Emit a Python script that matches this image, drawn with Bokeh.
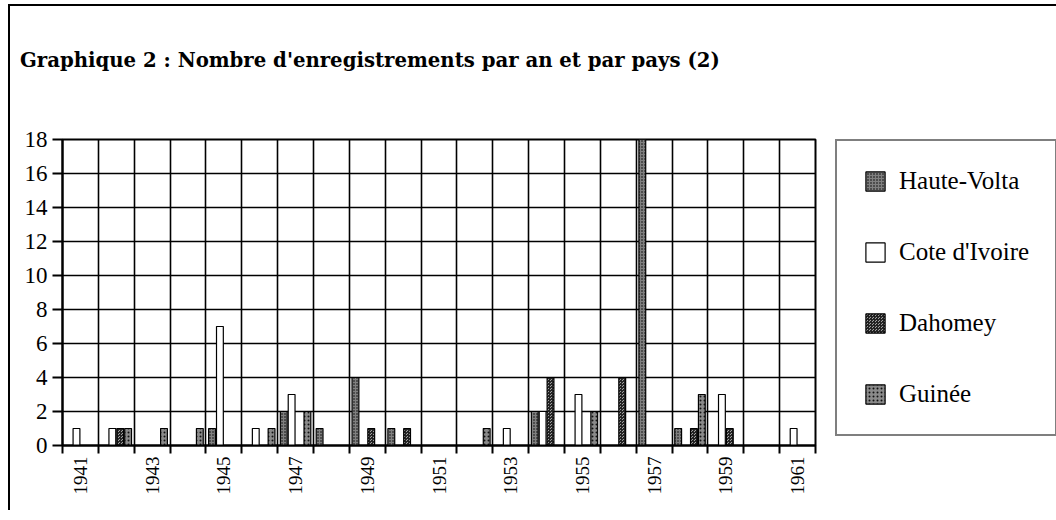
import math
from bokeh.plotting import figure
from bokeh.layouts import column
from bokeh.models import Range1d, FixedTicker, Legend, LegendItem, Div
from bokeh.embed import file_html
from bokeh.resources import INLINE

# ---- data ----
years = list(range(1941, 1962))
haute_volta  = [0, 0, 0, 0, 1, 0, 2, 1, 4, 1, 0, 0, 0, 2, 0, 0, 18, 1, 0, 0, 0]
cote_divoire = [1, 1, 0, 0, 7, 1, 3, 0, 0, 0, 0, 0, 1, 2, 3, 0, 0, 0, 3, 0, 1]
dahomey      = [0, 1, 0, 0, 0, 0, 0, 0, 1, 1, 0, 0, 0, 4, 0, 4, 0, 1, 1, 0, 0]
guinee       = [0, 1, 1, 1, 0, 1, 2, 0, 0, 0, 0, 1, 0, 0, 2, 0, 0, 3, 0, 0, 0]
series_names = ["Haute-Volta", "Cote d'Ivoire", "Dahomey", "Guinée"]
y_ticks = list(range(0, 19, 2))
label_years = years[::2]
title_text = "Graphique 2 : Nombre d'enregistrements par an et par pays (2)"

boundaries = [y - 0.5 for y in years] + [years[-1] + 0.5]

title_div = Div(width=1040, height=100, margin=0,
                text=('<div style="position:relative; top:41px; left:10px; white-space:nowrap; '
                      'font-family:\'DejaVu Serif\'; font-weight:bold; font-size:19.7px; color:black;">'
                      + title_text + '</div>'))

p = figure(frame_width=753, frame_height=306, output_backend="svg", toolbar_location=None,
           x_range=Range1d(years[0] - 0.5, years[-1] + 0.5), y_range=Range1d(0, 18),
           min_border_left=52, min_border_right=235, min_border_top=33,
           min_border_bottom=65, margin=0)
p.background_fill_color = "white"
p.border_fill_color = "white"
p.outline_line_color = "black"
p.outline_line_width = 2

# grids
p.xgrid.ticker = FixedTicker(ticks=boundaries)
p.ygrid.ticker = FixedTicker(ticks=y_ticks)
for g in (p.xgrid, p.ygrid):
    g.grid_line_color = "black"
    g.grid_line_width = 1.6
    g.grid_line_alpha = 1.0

# y axis
ya = p.yaxis[0]
ya.ticker = FixedTicker(ticks=y_ticks)
ya.axis_line_width = 2
ya.major_tick_out = 10
ya.major_tick_in = 0
ya.major_tick_line_width = 2
ya.minor_tick_line_color = None
ya.major_label_standoff = 5
ya.major_label_text_font = "Liberation Serif"
ya.major_label_text_font_size = "23px"
ya.major_label_text_color = "black"

# x axis
xa = p.xaxis[0]
xa.ticker = FixedTicker(ticks=label_years, minor_ticks=boundaries)
xa.axis_line_width = 2
xa.major_tick_line_color = None
xa.major_tick_out = 8
xa.major_tick_in = 0
xa.minor_tick_out = 8
xa.minor_tick_in = 0
xa.minor_tick_line_width = 2
xa.minor_tick_line_color = "black"
xa.major_label_orientation = math.pi / 2
xa.major_label_standoff = 3
xa.major_label_text_font = "Liberation Serif"
xa.major_label_text_font_size = "19px"
xa.major_label_text_color = "black"

styles = [
    dict(fill_color="#808080", hatch_pattern="dot", hatch_color="black", hatch_scale=3, hatch_weight=1),
    dict(fill_color="white"),
    dict(fill_color="#a0a0a0", hatch_pattern="criss_cross", hatch_color="#222222", hatch_scale=3, hatch_weight=1),
    dict(fill_color="#8a8a8a", hatch_pattern="dot", hatch_color="#111111", hatch_scale=4, hatch_weight=1.5),
]
offsets = [-0.33, -0.11, 0.11, 0.33]
all_vals = [haute_volta, cote_divoire, dahomey, guinee]

items = []
for name, vals, off, st in zip(series_names, all_vals, offsets, styles):
    xs = [y + off for y, v in zip(years, vals) if v > 0]
    tops = [v for v in vals if v > 0]
    r = p.vbar(x=xs, top=tops, bottom=0, width=0.19, line_color="black", line_width=1.2, **st)
    items.append(LegendItem(label=name, renderers=[r]))

legend = Legend(items=items, location=(20, 9), orientation="vertical",
                border_line_color="black", border_line_width=2,
                background_fill_color="white", background_fill_alpha=1.0,
                label_text_font="Liberation Serif", label_text_font_size="25px",
                label_text_color="black",
                glyph_width=24, glyph_height=24, label_height=24, label_width=120,
                spacing=43, padding=26, margin=0, label_standoff=12)
p.add_layout(legend, "right")

layout = column(title_div, p, spacing=0)
layout.styles = {"margin-left": "8px", "margin-top": "4px",
                 "border-left": "2px solid black", "border-top": "2px solid black"}

open("out.html", "w").write(file_html(layout, INLINE))
